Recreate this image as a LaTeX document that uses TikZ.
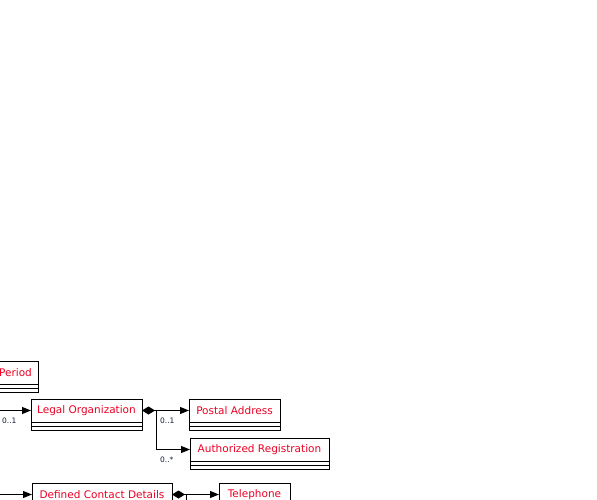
\documentclass[tikz,border=0pt]{standalone}
\usepackage{fontspec}
\setmainfont{DejaVu Sans}
\usetikzlibrary{arrows.meta}
\definecolor{clsname}{RGB}{235,0,35}
\definecolor{multtext}{RGB}{20,25,60}

% class box: header with the name, then two empty compartments
\newcommand\umlclass[5]{% name, left, top, width, label
  \node[clshead, minimum width=#4pt] (#1) at (#2,#3) {#5};
  \draw[clsline] (#1.south west) rectangle ([yshift=-8pt]#1.south east);
  \draw[clsline] ([yshift=-4pt]#1.south west) -- ([yshift=-4pt]#1.south east);
}

\begin{document}
\begin{tikzpicture}[x=1pt,y=-1pt,
  clshead/.style={draw=black, line width=1pt, anchor=north west,
    minimum height=23pt, inner xsep=5pt, inner ysep=0pt, outer sep=0pt,
    text=clsname, font=\fontsize{10.5}{12}\selectfont},
  clsline/.style={draw=black, line width=1pt},
  link/.style={draw=black, line width=1pt,
    -{Triangle[length=9pt,width=7pt]}},
  comp/.style={link, {Diamond[length=13pt,width=8pt]}-{Triangle[length=9pt,width=7pt]}},
  plainline/.style={draw=black, line width=1pt},
  multlabel/.style={anchor=west, inner sep=0pt, text=multtext,
    font=\fontsize{7.5}{8}\selectfont}]

\useasboundingbox (0,0) rectangle (597,500);
\clip (0,0) rectangle (597,500);

% classes
\umlclass{per}{-7}{361}{45}{Period}
\umlclass{lo}{31}{399}{111}{Legal Organization}
\umlclass{pa}{189}{399}{91}{Postal Address}
\umlclass{ar}{190}{438}{139}{Authorized Registration}
\umlclass{dcd}{32}{483}{140}{Defined Contact Details}
\umlclass{tel}{219}{483}{71}{Telephone}

% junctions and free ends
\coordinate (inLO) at ([xshift=-40pt]lo.west);
\coordinate (inDCD) at ([xshift=-40pt]dcd.west);
\coordinate (j1) at ([xshift=14pt]lo.east);
\coordinate (k1) at (j1 |- ar.west);
\coordinate (j2) at ([xshift=14pt]dcd.east);
\coordinate (j2d) at ([yshift=-40pt]j2);

% connectors
\draw[link] (inLO) -- (lo.west);
\draw[comp] (lo.east) -- (pa.west);
\draw[link] (j1) -- (k1) -- (ar.west);
\draw[link] (inDCD) -- (dcd.west);
\draw[comp] (dcd.east) -- (tel.west);
\draw[plainline] (j2) -- (j2d);

% multiplicities
\node[multlabel] (m1) at ([xshift=-29pt,yshift=-10pt]lo.west) {0..1};
\node[multlabel] (m2) at ([xshift=4pt,yshift=-10.5pt]j1) {0..1};
\node[multlabel] (m3) at ([xshift=4pt,yshift=-10pt]k1) {0..*};

\end{tikzpicture}
\end{document}
